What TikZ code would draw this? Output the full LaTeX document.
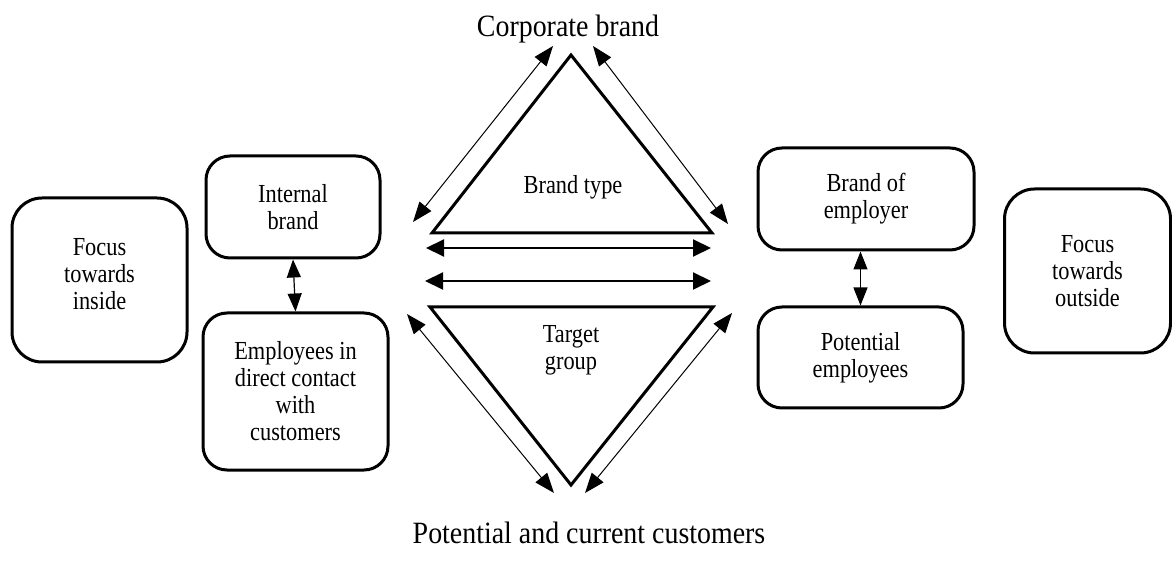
\documentclass[tikz,border=0pt]{standalone}
\usepackage{fontspec}
\setmainfont{Liberation Serif}[FakeStretch=0.86]
\newfontfamily\titlefont{Liberation Serif}[FakeStretch=0.9]
\usetikzlibrary{arrows.meta}
\tikzset{
    box/.style={draw,line width=1.5pt,rounded corners=12pt,align=center,
        inner sep=2pt,font=\fontsize{13}{13.5}\selectfont},
    label/.style={align=center,font=\fontsize{13}{13.5}\selectfont},
    title/.style={anchor=base,font=\titlefont\fontsize{15.5}{18}\selectfont},
    tri/.style={line width=1.5pt,line join=miter},
    thin/.style={line width=0.5pt,{Triangle[length=10pt,width=7.5pt]}-{Triangle[length=10pt,width=7.5pt]}},
    link/.style={line width=1pt,{Triangle[length=9pt,width=8.5pt]}-{Triangle[length=9pt,width=8.5pt]}},
    vlink/.style={line width=0.6pt,{Triangle[length=9pt,width=7pt]}-{Triangle[length=9pt,width=7pt]}}
}
\begin{document}
\begin{tikzpicture}[x=0.5pt,y=-0.5pt]
    \useasboundingbox (0,0) rectangle (1172,566);

    \node[title] (corp) at (568,37) {Corporate brand};
    \node[title] (cust) at (589,543) {Potential and current customers};

    \node[box,rounded corners=15pt,minimum width=87.5pt,minimum height=82pt,text depth=6pt] (inside) at (99.5,280) {Focus\\towards\\inside};
    \node[box,minimum width=87pt,minimum height=51pt] (internal) at (293,207) {Internal\\brand};
    \node[box,minimum width=92.5pt,minimum height=78.5pt] (contact) at (295.5,391.5) {Employees in\\direct contact\\with\\customers};

    \node[box,minimum width=108pt,minimum height=51pt] (employer) at (866,199) {Brand of\\employer};
    \node[box,minimum width=102.5pt,minimum height=50.5pt] (potential) at (860.5,357.5) {Potential\\employees};
    \node[box,rounded corners=15pt,minimum width=83pt,minimum height=82pt] (outside) at (1087.5,271) {Focus\\towards\\outside};

    % triangles
    \coordinate (top) at (571,55);
    \coordinate (tl) at (432,233);
    \coordinate (tr) at (712,233);
    \coordinate (bl) at (430,307);
    \coordinate (br) at (713,307);
    \coordinate (bot) at (571,485);
    \draw[tri] (top) -- (tr) -- (tl) -- cycle;
    \draw[tri] (bl) -- (br) -- (bot) -- cycle;
    \node[label,anchor=base] (brandtype) at (573,194) {Brand type};
    \node[label] (target) at (571,350) {Target\\group};

    % thin arrows along the sides
    \coordinate (a1) at (413,222); \coordinate (b1) at (553,46);
    \coordinate (a2) at (593,46);  \coordinate (b2) at (728,224);
    \coordinate (a3) at (407,314); \coordinate (b3) at (554,493);
    \coordinate (a4) at (732,313); \coordinate (b4) at (585,493);
    \draw[thin] (a1) -- (b1);
    \draw[thin] (a2) -- (b2);
    \draw[thin] (a3) -- (b3);
    \draw[thin] (a4) -- (b4);

    % arrows between the triangles
    \coordinate (h1l) at (426,248); \coordinate (h1r) at (711,248);
    \coordinate (h2l) at (425,281); \coordinate (h2r) at (711,281);
    \draw[link] (h1l) -- (h1r);
    \draw[link] (h2l) -- (h2r);

    \draw[vlink] (internal.south) -- (contact.north);
    \draw[vlink] (potential.north |- employer.south) -- (potential.north);
\end{tikzpicture}
\end{document}
